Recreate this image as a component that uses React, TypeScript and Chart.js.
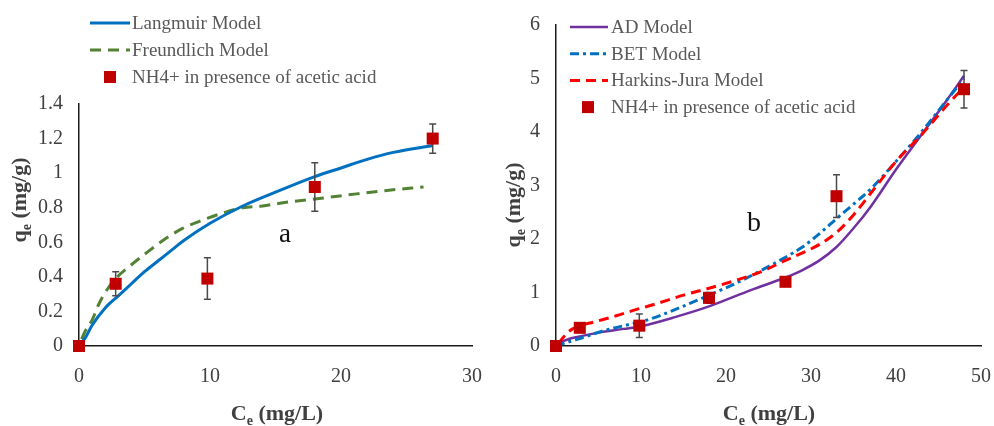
import React, { useEffect, useRef } from 'react';
import { Chart, registerables } from 'chart.js';

Chart.register(...registerables);

const FONT = '"Liberation Serif", "Times New Roman", serif';

// ---------- Panel a ----------
const ceA = [0, 2.8, 9.8, 18, 27];
const qeA = [0, 0.36, 0.39, 0.92, 1.2];
const errA = [0, 0.07, 0.12, 0.14, 0.085];

const langmuirX = [0, 0.5, 1, 2, 3, 4, 5, 6, 7, 8, 10, 12.5, 15, 18, 20, 22, 24, 27];
const langmuirY = [0, 0.05, 0.12, 0.22, 0.29, 0.36, 0.43, 0.49, 0.55, 0.61, 0.71, 0.81, 0.89, 0.98, 1.03, 1.08, 1.12, 1.16];

const freundlichX = [0.2, 0.5, 1, 1.5, 2, 2.8, 4, 5, 6.4, 7.9, 9.5, 11, 12.5, 14, 15.7, 18.5, 21.2, 23.5, 26.3];
const freundlichY = [0.04, 0.09, 0.15, 0.24, 0.31, 0.39, 0.47, 0.53, 0.61, 0.68, 0.73, 0.77, 0.8, 0.81, 0.83, 0.855, 0.88, 0.9, 0.92];

const xTicksA = [0, 10, 20, 30];
const yTicksA = [0, 0.2, 0.4, 0.6, 0.8, 1, 1.2, 1.4];

// ---------- Panel b ----------
const ceB = [0, 2.8, 9.8, 18, 27, 33, 48];
const qeB = [0, 0.34, 0.38, 0.9, 1.2, 2.8, 4.8];
const errB = [0, 0.05, 0.22, 0.1, 0.05, 0.4, 0.35];

const adX = [0, 0.5, 1.5, 2.8, 5, 8, 10, 14, 18, 23, 27, 29, 31, 33, 35, 37, 40, 43, 46, 48];
const adY = [0, 0.06, 0.13, 0.18, 0.25, 0.32, 0.37, 0.54, 0.74, 1.05, 1.28, 1.42, 1.6, 1.85, 2.2, 2.6, 3.3, 3.95, 4.6, 5.05];

const betX = [0, 1.5, 3, 5.5, 8, 11, 14, 17, 19, 21, 24, 27, 29, 31, 33, 35, 37, 40, 43, 46, 48];
const betY = [0, 0.08, 0.15, 0.28, 0.38, 0.5, 0.68, 0.88, 1.02, 1.16, 1.4, 1.66, 1.85, 2.1, 2.38, 2.65, 2.93, 3.45, 4.0, 4.6, 5.0];

const hjX = [0.3, 0.8, 1.5, 2.5, 4.5, 7, 9, 12, 15, 18, 21, 24, 27, 29, 31, 33, 35, 37, 40, 43, 46, 48];
const hjY = [0.05, 0.15, 0.27, 0.36, 0.45, 0.56, 0.66, 0.8, 0.95, 1.08, 1.22, 1.38, 1.6, 1.74, 1.9, 2.12, 2.45, 2.85, 3.45, 3.95, 4.5, 4.84];

const xTicksB = [0, 10, 20, 30, 40, 50];
const yTicksB = [0, 1, 2, 3, 4, 5, 6];

const toXY = (xs: number[], ys: number[]) => xs.map((x, i) => ({ x, y: ys[i] }));

type Part = { t: string; sub?: boolean };

function drawRich(ctx: CanvasRenderingContext2D, parts: Part[], size: number, cx: number, cy: number, rotate: boolean) {
  ctx.save();
  ctx.translate(cx, cy);
  if (rotate) ctx.rotate(-Math.PI / 2);
  const subSize = Math.round(size * 0.62);
  const widths = parts.map((p) => {
    ctx.font = `bold ${p.sub ? subSize : size}px ${FONT}`;
    return ctx.measureText(p.t).width;
  });
  const total = widths.reduce((a, b) => a + b, 0);
  let x = -total / 2;
  ctx.textBaseline = 'alphabetic';
  ctx.textAlign = 'left';
  ctx.fillStyle = '#404040';
  parts.forEach((p, i) => {
    ctx.font = `bold ${p.sub ? subSize : size}px ${FONT}`;
    ctx.fillText(p.t, x, size * 0.33 + (p.sub ? size * 0.22 : 0));
    x += widths[i];
  });
  ctx.restore();
}

type Deco = {
  legend: { x0: number; x1: number; tx: number; mx: number; y0: number; dy: number };
  xTitle: { cx: number; cy: number };
  yTitle: { cx: number; cy: number };
  label: { text: string; cx: number; cy: number; size: number };
  ce: number[];
  qe: number[];
  err: number[];
  pointIndex: number;
};

function makePlugin(d: Deco) {
  return {
    id: 'deco',
    beforeDatasetDraw(chart: any, args: any) {
      if (args.index !== d.pointIndex) return;
      const { ctx, scales } = chart;
      ctx.save();
      ctx.strokeStyle = '#4a4a4a';
      ctx.lineWidth = 1.5;
      d.ce.forEach((c, i) => {
        const e = d.err[i];
        if (!e) return;
        const px = scales.x.getPixelForValue(c);
        const top = scales.y.getPixelForValue(d.qe[i] + e);
        const bot = scales.y.getPixelForValue(d.qe[i] - e);
        ctx.beginPath();
        ctx.moveTo(px, top);
        ctx.lineTo(px, bot);
        ctx.moveTo(px - 3.5, top);
        ctx.lineTo(px + 3.5, top);
        ctx.moveTo(px - 3.5, bot);
        ctx.lineTo(px + 3.5, bot);
        ctx.stroke();
      });
      ctx.restore();
    },
    afterDraw(chart: any) {
      const ctx: CanvasRenderingContext2D = chart.ctx;
      ctx.save();
      chart.data.datasets.forEach((ds: any, i: number) => {
        const y = d.legend.y0 + i * d.legend.dy;
        if (ds.showLine === false) {
          ctx.fillStyle = ds.backgroundColor;
          ctx.fillRect(d.legend.mx - 6, y - 6, 12, 12);
        } else {
          ctx.strokeStyle = ds.borderColor;
          ctx.lineWidth = ds.borderWidth;
          ctx.setLineDash(ds.borderDash || []);
          ctx.beginPath();
          ctx.moveTo(d.legend.x0, y);
          ctx.lineTo(d.legend.x1, y);
          ctx.stroke();
          ctx.setLineDash([]);
        }
        ctx.fillStyle = '#595959';
        ctx.font = `19px ${FONT}`;
        ctx.textBaseline = 'middle';
        ctx.textAlign = 'left';
        ctx.fillText(ds.label, d.legend.tx, y + 1);
      });
      ctx.fillStyle = '#111';
      ctx.font = `${d.label.size}px ${FONT}`;
      ctx.textAlign = 'center';
      ctx.textBaseline = 'middle';
      ctx.fillText(d.label.text, d.label.cx, d.label.cy);
      ctx.restore();
      drawRich(ctx, [{ t: 'C' }, { t: 'e', sub: true }, { t: ' (mg/L)' }], 22, d.xTitle.cx, d.xTitle.cy, false);
      drawRich(ctx, [{ t: 'q' }, { t: 'e', sub: true }, { t: ' (mg/g)' }], 22, d.yTitle.cx, d.yTitle.cy, true);
    },
  };
}

const fmt = (v: any) => String(Math.round(Number(v) * 10) / 10);

function scales(xMax: number, yMax: number, xt: number[], yt: number[], yWidth: number) {
  const tickFont = { family: FONT, size: 20 };
  return {
    x: {
      type: 'linear',
      min: 0,
      max: xMax,
      afterBuildTicks: (s: any) => {
        s.ticks = xt.map((v) => ({ value: v }));
      },
      afterFit: (s: any) => {
        s.height = 80;
      },
      grid: { display: false, drawTicks: true, tickLength: 17 },
      border: { display: true, color: '#1a1a1a', width: 1.5 },
      ticks: { font: tickFont, color: '#404040', padding: 2, maxRotation: 0, callback: fmt },
    },
    y: {
      type: 'linear',
      min: 0,
      max: yMax,
      afterBuildTicks: (s: any) => {
        s.ticks = yt.map((v) => ({ value: v }));
      },
      afterFit: (s: any) => {
        s.width = yWidth;
      },
      grid: { display: false, drawTicks: true, tickLength: 14 },
      border: { display: true, color: '#1a1a1a', width: 1.5 },
      ticks: { font: tickFont, color: '#404040', padding: 2, callback: fmt },
    },
  };
}

const lineDs = (label: string, xs: number[], ys: number[], color: string, dash: number[], width: number, order: number) => ({
  type: 'line',
  label,
  data: toXY(xs, ys),
  borderColor: color,
  backgroundColor: color,
  borderWidth: width,
  borderDash: dash,
  pointRadius: 0,
  tension: 0.4,
  cubicInterpolationMode: 'monotone',
  fill: false,
  order,
  clip: false,
});

const pointDs = (xs: number[], ys: number[]) => ({
  type: 'line',
  label: 'NH4+ in presence of acetic acid',
  data: toXY(xs, ys),
  showLine: false,
  pointStyle: 'rect',
  pointRadius: 8.5,
  pointHoverRadius: 8.5,
  pointBorderWidth: 0,
  backgroundColor: '#C00000',
  borderColor: '#C00000',
  order: 0,
  clip: false,
});

function Panel({ left, width, build }: { left: number; width: number; build: (c: HTMLCanvasElement) => Chart }) {
  const ref = useRef<HTMLCanvasElement | null>(null);
  useEffect(() => {
    if (!ref.current) return;
    const ch = build(ref.current);
    return () => ch.destroy();
  }, []);
  return (
    <canvas
      ref={ref}
      width={width}
      height={426}
      style={{ position: 'absolute', left, top: 0, width, height: 426, display: 'block' }}
    />
  );
}

function buildA(canvas: HTMLCanvasElement) {
  return new Chart(canvas, {
    type: 'line',
    data: {
      datasets: [
        lineDs('Langmuir Model', langmuirX, langmuirY, '#0070C0', [], 3, 2),
        lineDs('Freundlich Model', freundlichX, freundlichY, '#548235', [11, 7], 3, 3),
        pointDs(ceA, qeA),
      ] as any,
    },
    options: {
      responsive: false,
      animation: false,
      devicePixelRatio: 1,
      layout: { padding: { left: 0, right: 22, top: 104, bottom: 0 } },
      scales: scales(30, 1.4, xTicksA, yTicksA, 79) as any,
      plugins: { legend: { display: false }, tooltip: { enabled: false } },
      events: [],
    },
    plugins: [
      makePlugin({
        legend: { x0: 90, x1: 130, tx: 132, mx: 110, y0: 23, dy: 27 },
        xTitle: { cx: 277, cy: 413 },
        yTitle: { cx: 19, cy: 200 },
        label: { text: 'a', cx: 285, cy: 235, size: 27 },
        ce: ceA,
        qe: qeA,
        err: errA,
        pointIndex: 2,
      }),
    ],
  } as any);
}

function buildB(canvas: HTMLCanvasElement) {
  return new Chart(canvas, {
    type: 'line',
    data: {
      datasets: [
        lineDs('AD Model', adX, adY, '#7030A0', [], 2.5, 3),
        lineDs('BET Model', betX, betY, '#0070C0', [9, 4, 3, 4], 3, 2),
        lineDs('Harkins-Jura Model', hjX, hjY, '#FF0000', [10, 6], 3, 1),
        pointDs(ceB, qeB),
      ] as any,
    },
    options: {
      responsive: false,
      animation: false,
      devicePixelRatio: 1,
      layout: { padding: { left: 0, right: 13, top: 25, bottom: 0 } },
      scales: scales(50, 6, xTicksB, yTicksB, 62) as any,
      plugins: { legend: { display: false }, tooltip: { enabled: false } },
      events: [],
    },
    plugins: [
      makePlugin({
        legend: { x0: 76, x1: 114, tx: 117, mx: 94, y0: 27, dy: 26.7 },
        xTitle: { cx: 275, cy: 413 },
        yTitle: { cx: 19, cy: 205 },
        label: { text: 'b', cx: 260, cy: 224, size: 28 },
        ce: ceB,
        qe: qeB,
        err: errB,
        pointIndex: 3,
      }),
    ],
  } as any);
}

export default function App() {
  return (
    <div style={{ position: 'absolute', left: 0, top: 0, width: 994, height: 426, background: '#fff', overflow: 'hidden' }}>
      <Panel left={0} width={494} build={buildA} />
      <Panel left={494} width={500} build={buildB} />
    </div>
  );
}
